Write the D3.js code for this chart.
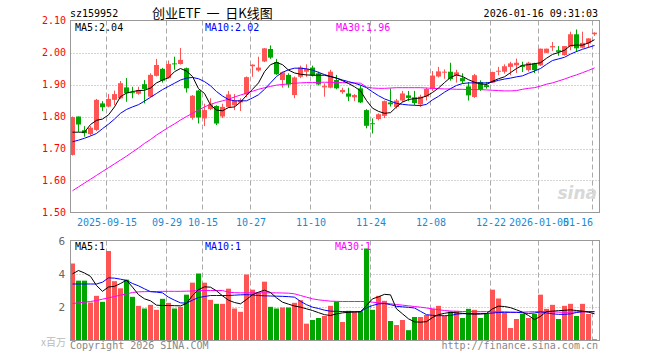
<!DOCTYPE html>
<html><head><meta charset="utf-8">
<script src="https://cdn.jsdelivr.net/npm/d3@7/dist/d3.min.js"></script>
<style>
html,body{margin:0;padding:0;background:#fff;}
svg text{font-family:"DejaVu Sans Mono",monospace;font-size:10px;}
</style></head>
<body><svg id="c" width="660" height="360"></svg>
<script>
const dates = ["09-05","09-08","09-09","09-10","09-11","09-12","09-15","09-16","09-17","09-18","09-19","09-22","09-23","09-24","09-25","09-26","09-29","09-30",
"10-09","10-10","10-13","10-14","10-15","10-16","10-17","10-20","10-21","10-22","10-23","10-24","10-27","10-28","10-29","10-30","10-31",
"11-03","11-04","11-05","11-06","11-07","11-10","11-11","11-12","11-13","11-14","11-17","11-18","11-19","11-20","11-21","11-24","11-25","11-26","11-27","11-28",
"12-01","12-02","12-03","12-04","12-05","12-08","12-09","12-10","12-11","12-12","12-15","12-16","12-17","12-18","12-19","12-22","12-23","12-24","12-25","12-26","12-29","12-30","12-31",
"01-05","01-06","01-07","01-08","01-09","01-12","01-13","01-14","01-15","01-16"];
const open  = [1.680,1.800,1.757,1.745,1.758,1.841,1.831,1.852,1.857,1.891,1.876,1.871,1.901,1.862,1.927,1.949,1.920,1.966,1.964,1.951,1.796,1.881,1.794,1.823,1.833,1.800,1.830,1.835,1.844,1.869,1.957,1.944,1.972,2.011,1.970,1.914,1.930,1.867,1.924,1.940,1.953,1.935,1.891,1.890,1.914,1.876,1.872,1.860,1.888,1.820,1.779,1.792,1.802,1.844,1.830,1.850,1.866,1.860,1.838,1.862,1.886,1.925,1.938,1.940,1.928,1.920,1.894,1.861,1.908,1.898,1.906,1.940,1.940,1.955,1.960,1.960,1.945,1.966,1.960,1.999,2.016,2.007,1.992,2.018,2.057,2.015,2.028,2.057];
const high  = [1.800,1.800,1.770,1.770,1.855,1.848,1.870,1.881,1.911,1.920,1.893,1.893,1.914,1.935,1.980,1.952,1.975,1.987,2.014,1.953,1.867,1.883,1.840,1.857,1.835,1.840,1.880,1.870,1.857,1.925,1.963,1.987,2.014,2.022,1.980,1.940,1.935,1.925,1.959,1.963,1.959,1.940,1.904,1.946,1.930,1.890,1.890,1.870,1.897,1.823,1.794,1.810,1.850,1.888,1.855,1.880,1.880,1.880,1.868,1.890,1.942,1.955,1.947,1.968,1.946,1.935,1.908,1.933,1.913,1.908,1.940,1.955,1.963,1.971,1.981,1.971,1.971,1.968,2.012,2.012,2.033,2.020,2.020,2.065,2.072,2.065,2.045,2.063];
const low   = [1.678,1.752,1.737,1.740,1.755,1.817,1.829,1.836,1.855,1.846,1.857,1.868,1.841,1.860,1.925,1.906,1.918,1.946,1.962,1.875,1.790,1.778,1.770,1.820,1.773,1.795,1.828,1.820,1.817,1.860,1.924,1.940,1.970,1.980,1.930,1.890,1.890,1.857,1.920,1.924,1.925,1.897,1.862,1.888,1.885,1.871,1.848,1.848,1.842,1.763,1.747,1.788,1.795,1.831,1.825,1.845,1.848,1.835,1.830,1.850,1.880,1.922,1.918,1.912,1.906,1.903,1.850,1.858,1.880,1.887,1.905,1.929,1.934,1.929,1.936,1.939,1.940,1.936,1.958,1.998,2.005,1.990,1.990,2.007,2.002,2.013,2.015,2.052];
const close = [1.798,1.775,1.748,1.765,1.852,1.829,1.855,1.870,1.904,1.873,1.873,1.883,1.886,1.930,1.961,1.912,1.964,1.963,1.977,1.888,1.865,1.797,1.820,1.838,1.778,1.830,1.869,1.850,1.852,1.923,1.962,1.953,2.013,1.984,1.932,1.938,1.900,1.922,1.953,1.949,1.928,1.900,1.895,1.940,1.888,1.883,1.862,1.867,1.844,1.771,1.777,1.807,1.848,1.838,1.850,1.872,1.858,1.842,1.862,1.886,1.928,1.941,1.940,1.917,1.938,1.910,1.866,1.929,1.884,1.892,1.939,1.943,1.957,1.966,1.968,1.955,1.968,1.945,2.012,2.012,2.020,2.002,2.020,2.057,2.013,2.030,2.044,2.062];
const ma5  = [1.751,1.751,1.751,1.775,1.788,1.792,1.805,1.830,1.862,1.873,1.878,1.881,1.882,1.889,1.905,1.914,1.921,1.940,1.950,1.942,1.925,1.887,1.872,1.836,1.820,1.818,1.828,1.830,1.845,1.866,1.885,1.905,1.940,1.962,1.969,1.962,1.945,1.936,1.932,1.930,1.929,1.929,1.929,1.925,1.920,1.912,1.903,1.893,1.880,1.850,1.826,1.816,1.810,1.812,1.830,1.845,1.853,1.856,1.858,1.864,1.875,1.889,1.906,1.922,1.930,1.925,1.915,1.907,1.902,1.900,1.910,1.918,1.924,1.937,1.950,1.960,1.962,1.965,1.968,1.982,1.994,2.000,2.007,2.022,2.023,2.023,2.030,2.040];
const ma10 = [1.721,1.726,1.732,1.739,1.747,1.762,1.776,1.792,1.810,1.822,1.830,1.837,1.848,1.860,1.872,1.884,1.894,1.904,1.914,1.920,1.922,1.918,1.909,1.896,1.878,1.864,1.853,1.849,1.849,1.849,1.858,1.868,1.885,1.905,1.925,1.938,1.946,1.951,1.951,1.949,1.945,1.938,1.931,1.925,1.920,1.914,1.909,1.904,1.898,1.890,1.877,1.865,1.855,1.848,1.841,1.838,1.836,1.835,1.834,1.838,1.852,1.863,1.876,1.887,1.897,1.903,1.905,1.905,1.905,1.905,1.908,1.913,1.917,1.920,1.924,1.927,1.935,1.942,1.950,1.963,1.975,1.980,1.985,1.995,2.003,2.010,2.016,2.022];
const ma30 = [1.568,1.580,1.592,1.604,1.616,1.628,1.640,1.652,1.664,1.676,1.689,1.702,1.716,1.728,1.742,1.754,1.766,1.777,1.789,1.800,1.810,1.820,1.830,1.838,1.844,1.849,1.854,1.861,1.867,1.873,1.879,1.885,1.890,1.894,1.898,1.900,1.902,1.904,1.905,1.906,1.906,1.907,1.907,1.907,1.906,1.906,1.905,1.905,1.904,1.892,1.889,1.888,1.888,1.889,1.890,1.890,1.890,1.890,1.890,1.889,1.888,1.887,1.886,1.886,1.885,1.885,1.884,1.884,1.884,1.883,1.882,1.881,1.880,1.880,1.881,1.885,1.888,1.890,1.895,1.901,1.905,1.911,1.917,1.924,1.930,1.937,1.944,1.952];
const volume = [4.62,3.59,3.59,2.28,2.68,2.32,5.37,3.56,3.13,3.65,2.62,2.08,1.92,2.14,1.84,2.50,2.26,1.92,2.02,2.75,3.47,4.02,3.47,2.44,2.20,2.20,3.11,1.92,1.72,3.96,3.05,2.87,3.53,2.02,1.92,1.98,1.98,2.26,2.42,1.01,1.23,1.35,1.47,2.08,2.34,1.11,1.78,1.72,1.76,5.52,1.84,2.68,2.38,1.17,0.93,1.23,0.62,1.41,1.41,1.53,1.90,2.08,1.47,1.74,1.78,1.35,1.90,1.84,1.35,1.59,3.05,2.52,1.65,0.75,1.29,1.59,1.35,1.59,2.75,1.90,2.14,1.29,2.08,2.20,1.47,2.20,1.59,0.08];
const volMa5  = [4.00,4.20,4.05,3.85,3.30,2.95,3.21,3.25,3.42,3.62,3.20,2.75,2.50,2.38,2.12,2.10,2.10,2.09,2.08,2.22,2.70,3.05,3.22,3.20,2.98,2.68,2.42,2.28,2.20,2.46,2.75,2.90,3.02,2.88,2.56,2.30,2.18,2.07,2.00,1.90,1.80,1.67,1.55,1.50,1.60,1.66,1.69,1.71,1.72,2.10,2.50,2.62,2.77,2.74,1.90,1.60,1.30,1.12,1.10,1.13,1.38,1.55,1.63,1.69,1.66,1.63,1.60,1.58,1.59,1.62,1.90,2.06,2.04,1.97,1.84,1.70,1.50,1.25,1.45,1.74,1.76,1.79,1.81,1.84,1.80,1.76,1.70,1.60];
const volMa10 = [3.39,3.39,3.39,3.39,3.39,3.50,3.76,3.74,3.68,3.60,3.42,3.28,3.10,2.93,2.90,2.86,2.60,2.42,2.26,2.24,2.42,2.58,2.64,2.70,2.70,2.70,2.70,2.72,2.74,2.75,2.73,2.70,2.68,2.67,2.66,2.65,2.63,2.60,2.35,2.15,2.00,1.92,1.82,1.76,1.75,1.74,1.73,1.73,1.73,1.95,2.10,2.20,2.22,2.15,2.05,2.02,1.99,1.95,1.75,1.55,1.51,1.49,1.49,1.50,1.58,1.61,1.61,1.61,1.61,1.62,1.65,1.68,1.69,1.69,1.69,1.66,1.62,1.65,1.72,1.66,1.60,1.57,1.57,1.60,1.68,1.73,1.73,1.73];
const volMa30 = [2.22,2.26,2.30,2.34,2.40,2.48,2.56,2.64,2.72,2.80,2.88,2.92,2.93,2.94,2.94,2.95,2.95,2.95,2.95,2.96,2.97,3.00,3.00,3.00,3.00,3.00,2.90,2.87,2.86,2.86,2.86,2.86,2.86,2.86,2.86,2.85,2.84,2.80,2.70,2.60,2.50,2.44,2.40,2.36,2.35,2.34,2.34,2.34,2.34,2.34,2.30,2.26,2.24,2.20,2.16,2.12,2.08,2.04,2.00,1.95,1.90,1.85,1.80,1.77,1.75,1.74,1.73,1.73,1.73,1.73,1.73,1.73,1.72,1.70,1.69,1.70,1.72,1.73,1.73,1.73,1.72,1.70,1.69,1.70,1.72,1.73,1.73,1.73];
const priceTicks = [1.5,1.6,1.7,1.8,1.9,2.0,2.1];
const volTicks = [2,4,6];
const xTickIdx = [6,16,22,30,40,50,60,70,78,87];
const xTickLabels = ["2025-09-15","09-29","10-15","10-27","11-10","11-24","12-08","12-22","2026-01-05","01-16"];

const UP="#ff5454", DOWN="#00a600", GRID="#aaaaaa";
const svg = d3.select("#c");
svg.append("rect").attr("width",660).attr("height",360).attr("fill","#fff");

const idx = d3.range(dates.length);
const x = d3.scaleBand().domain(idx).range([69.5,597.5]).padding(0);
const cx = i => x(i)+3;
const y = d3.scaleLinear().domain([1.5,2.1]).range([212.5,20.5]);
const yv = d3.scaleLinear().domain([0,6]).range([340.5,240.5]);
const L=70.5, R=599.5;

// horizontal grid
const g = svg.append("g");
g.selectAll("line.hg").data([1.6,1.7,1.8,1.9,2.0]).join("line")
 .attr("x1",L).attr("x2",R).attr("y1",d=>Math.round(y(d))+0.5).attr("y2",d=>Math.round(y(d))+0.5)
 .attr("stroke",GRID).attr("stroke-dasharray","1,2");
g.selectAll("line.vg").data([2,4]).join("line")
 .attr("x1",L).attr("x2",R).attr("y1",d=>Math.round(yv(d))+0.5).attr("y2",d=>Math.round(yv(d))+0.5)
 .attr("stroke",GRID).attr("stroke-dasharray","1,2");
// vertical dashed
xTickIdx.forEach(i=>{
  const xx = x(i)+1;
  g.append("line").attr("x1",xx).attr("x2",xx).attr("y1",20.5).attr("y2",212.5).attr("stroke",GRID).attr("stroke-dasharray","5,3");
  g.append("line").attr("x1",xx).attr("x2",xx).attr("y1",240.5).attr("y2",340.5).attr("stroke",GRID).attr("stroke-dasharray","5,3");
});

// watermark
svg.append("text").attr("x",597).attr("y",199).attr("text-anchor","end")
 .style("font-family","DejaVu Sans").style("font-size","17px").style("font-style","italic").style("font-weight","bold")
 .attr("fill","#d8d8d8").text("sina");

// candles
const cg = svg.append("g");
idx.forEach(i=>{
  const up = close[i] >= open[i];
  const col = up?UP:DOWN;
  cg.append("line").attr("x1",cx(i)).attr("x2",cx(i)).attr("y1",y(high[i])).attr("y2",y(low[i])).attr("stroke",col).attr("stroke-width",1);
  const top = y(Math.max(open[i],close[i])), bot = y(Math.min(open[i],close[i]));
  cg.append("rect").attr("x",x(i)+0.5).attr("width",5).attr("y",top).attr("height",Math.max(1,bot-top)).attr("fill",col);
});
// volume bars
idx.forEach(i=>{
  const up = close[i] >= open[i];
  cg.append("rect").attr("x",x(i)+0.5).attr("width",5).attr("y",yv(volume[i])).attr("height",yv(0)-yv(volume[i])).attr("fill",up?UP:DOWN);
});

// MA lines
const lp = d3.line().x((d,i)=>cx(i)).y(d=>y(d));
const lv = d3.line().x((d,i)=>cx(i)).y(d=>yv(d));
[[ma30,"#ff00ff"],[ma10,"#0000ff"],[ma5,"#000000"]].forEach(([a,c])=>svg.append("path").attr("d",lp(a)).attr("fill","none").attr("stroke",c).attr("stroke-width",1));
[[volMa30,"#ff00ff"],[volMa10,"#0000ff"],[volMa5,"#000000"]].forEach(([a,c])=>svg.append("path").attr("d",lv(a)).attr("fill","none").attr("stroke",c).attr("stroke-width",1));

// borders
svg.append("rect").attr("x",L).attr("y",20.5).attr("width",R-L).attr("height",192).attr("fill","none").attr("stroke","#999");
svg.append("rect").attr("x",L).attr("y",240.5).attr("width",R-L).attr("height",100).attr("fill","none").attr("stroke","#999");

// axes
const ay = d3.axisLeft(y).tickValues(priceTicks).tickFormat(d3.format(".2f")).tickSize(0).tickPadding(4);
const gy = svg.append("g").attr("transform","translate(70,0)").call(ay);
gy.select(".domain").remove();
gy.selectAll("text").attr("fill","#ff0000").style("font-size","10px").style("font-family","DejaVu Sans Mono");

const ayv = d3.axisLeft(yv).tickValues(volTicks).tickFormat(d3.format("d")).tickSize(0).tickPadding(5);
const gyv = svg.append("g").attr("transform","translate(70,0)").call(ayv);
gyv.select(".domain").remove();
gyv.selectAll("text").attr("fill","#666").style("font-size","11px").style("font-family","DejaVu Sans Mono");

const xa = d3.axisBottom(d3.scaleLinear().domain([0,660]).range([0,660]))
 .tickValues(xTickIdx.map(i=>x(i)+1)).tickFormat((d,k)=>xTickLabels[k]).tickSize(0).tickPadding(6);
const gx = svg.append("g").attr("transform","translate(0,212.5)").call(xa);
gx.select(".domain").remove();
gx.selectAll("text").attr("fill","#1a8ad4").style("font-size","10px").style("font-family","DejaVu Sans Mono")
 .attr("text-anchor",(d,k)=>k===xTickIdx.length-1?"end":"middle");

// legends
const leg = (t,xx,yy,c)=>svg.append("text").attr("x",xx).attr("y",yy).attr("fill",c).text(t);
leg("MA5:2.04",75,31,"#000");
leg("MA10:2.02",205,31,"#0000ff");
leg("MA30:1.96",336,31,"#ff00ff");
leg("MA5:1",75,250,"#000");
leg("MA10:1",205,250,"#0000ff");
leg("MA30:1",335,250,"#ff00ff");

// header
leg("sz159952",70,17,"#000");
svg.append("text").attr("x",152).attr("y",18).attr("fill","#000").attr("xml:space","preserve")
 .style("white-space","pre")
 .style("font-family","'Noto Sans CJK SC'").style("font-size","13px").text("创业ETF  一  日K线图");
svg.append("text").attr("x",598).attr("y",17).attr("text-anchor","end").attr("fill","#000").text("2026-01-16 09:31:03");

// footer
leg("Copyright 2026 SINA.COM",70,349,"#888");
svg.append("text").attr("x",598).attr("y",349).attr("text-anchor","end").attr("fill","#888").text("http://finance.sina.com.cn");
svg.append("text").attr("x",66).attr("y",346).attr("text-anchor","end").attr("fill","#bbb")
 .style("font-family","'Noto Sans CJK SC'").style("font-size","10px").text("x百万");
</script></body></html>
